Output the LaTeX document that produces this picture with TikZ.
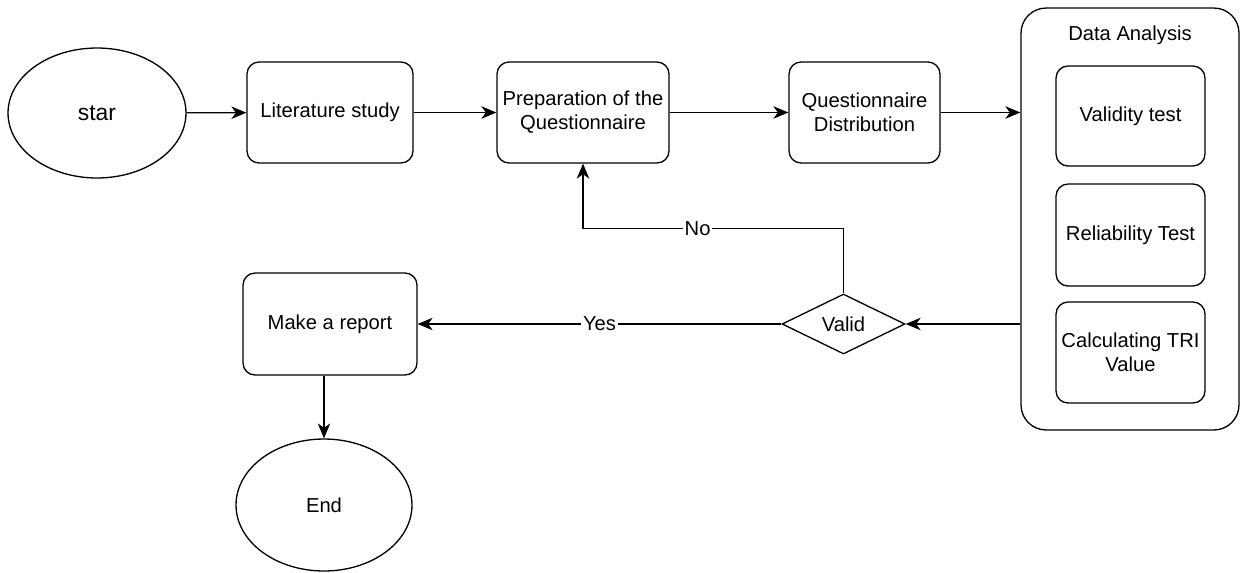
\documentclass[tikz,border=0pt]{standalone}
\usepackage{fontspec}
\setmainfont{Liberation Sans}
\usetikzlibrary{shapes.geometric,arrows.meta}

\begin{document}
\begin{tikzpicture}[
    x=0.02cm, y=-0.02cm,
    font=\fontsize{11.5}{13.7}\selectfont,
    line width=0.75pt,
    >={Stealth[length=3mm,width=2.5mm,inset=0.9mm]},
    stepbox/.style={draw, rounded corners=0.24cm, align=center, inner sep=0pt},
    terminal/.style={draw, ellipse, inner sep=0pt},
    decision/.style={draw, diamond, aspect=2, inner sep=0pt},
    lbl/.style={fill=white, inner sep=1pt}
]
\useasboundingbox (0,0) rectangle (1240,572);

% === Top row ===
\node[terminal, minimum width=3.56cm, minimum height=2.6cm,
      font=\fontsize{13}{15}\selectfont] (start) at (97,113) {star};
\node[stepbox, minimum width=3.32cm, minimum height=2.02cm] (lit) at (330,112.5) {Literature study};
\node[stepbox, minimum width=3.44cm, minimum height=2.02cm] (prep) at (583,112.5) {Preparation of the\\Questionnaire};
\node[stepbox, minimum width=3.02cm, minimum height=2.02cm] (dist) at (864.5,112.5) {Questionnaire\\Distribution};

% === Data Analysis container ===
\node[stepbox, rounded corners=0.5cm, minimum width=4.36cm, minimum height=8.44cm] (analysis) at (1130,219) {};
\node (analysistitle) at (1130,35) {Data Analysis};
\node[stepbox, minimum width=2.98cm, minimum height=2.0cm] (valtest) at (1130.5,116) {Validity test};
\node[stepbox, minimum width=2.98cm, minimum height=2.04cm] (reltest) at (1130.5,235) {Reliability Test};
\node[stepbox, minimum width=2.98cm, minimum height=2.02cm] (tri) at (1130.5,352.5) {Calculating TRI\\Value};

% === Bottom row ===
\node[decision, minimum width=2.46cm, minimum height=1.2cm] (valid) at (843.5,324) {Valid};
\node[stepbox, minimum width=3.48cm, minimum height=2.04cm] (report) at (330,324) {Make a report};
\node[terminal, minimum width=3.52cm, minimum height=2.64cm] (finish) at (324,505) {End};

% === Connectors ===
\draw[->] (start) -- (lit);
\draw[->] (lit) -- (prep);
\draw[->] (prep) -- (dist);
\draw[->] (dist.east) -- (dist.east -| analysis.west);
\draw[->] (analysis.west |- valid) -- (valid.east);
\draw[->] (valid) -- node[lbl] {Yes} (report);
\draw[->] (valid.north) -- ++(0,-65) -| node[pos=0.28, lbl] {No} (prep.south);
\draw[->] (finish.north |- report.south) -- (finish);

\end{tikzpicture}
\end{document}
